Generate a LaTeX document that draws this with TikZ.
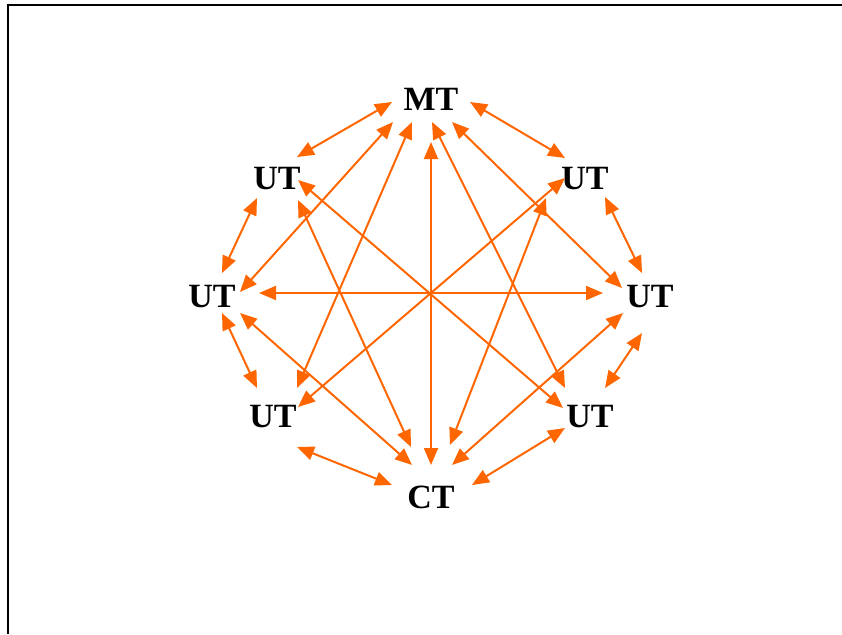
\documentclass[tikz,border=0pt]{standalone}
\usepackage{fontspec}
\setmainfont{Liberation Serif}
\usetikzlibrary{arrows.meta,calc}
\definecolor{arrorange}{HTML}{FF6600}
\begin{document}
\begin{tikzpicture}[x=1pt,y=-1pt,
  lbl/.style={font=\fontsize{34}{40}\selectfont\bfseries, inner sep=0pt},
  link/.style={draw=arrorange, line width=2pt,
    {Triangle[length=17pt,width=14pt]}-{Triangle[length=17pt,width=14pt]}}]
\useasboundingbox (0,0) rectangle (842,634);
\draw[line width=2pt] (8,634) -- (8,5) -- (842,5);
\node[lbl] (MT) at (431,99) {MT};
\node[lbl] (TL) at (277,179) {UT};
\node[lbl] (TR) at (585,179) {UT};
\node[lbl] (L)  at (212,297) {UT};
\node[lbl] (R)  at (650,297) {UT};
\node[lbl] (BL) at (273,417) {UT};
\node[lbl] (BR) at (590,417) {UT};
\node[lbl] (CT) at (431,497) {CT};
\newcommand\linkpair[4]{\draw[link] ($(#1)+(#2)$) -- ($(#3)+(#4)$);}
% MT links
\linkpair{MT}{-39,3}{TL}{20,-22}
\linkpair{MT}{39,3}{TR}{-20,-21}
\linkpair{MT}{-38,23}{L}{28,-5}
\linkpair{MT}{-19,23}{BL}{24,-29}
\linkpair{MT}{0,43}{CT}{0,-32}
\linkpair{MT}{1,23}{BR}{-25,-29}
\linkpair{MT}{21,23}{R}{-28,-9}
% TL links
\linkpair{TL}{-20,19}{L}{10,-24}
\linkpair{TL}{21,1}{BR}{-27,-9}
\linkpair{TL}{21,21}{CT}{-20,-50}
% TR links
\linkpair{TR}{20,18}{R}{-8,-24}
\linkpair{TR}{-20,-1}{BL}{25,-10}
\linkpair{TR}{-39,19}{CT}{19,-52}
% L links
\linkpair{L}{47,-4}{R}{-47,-4}
\linkpair{L}{10,16}{BL}{-16,-29}
\linkpair{L}{28,16}{CT}{-19,-32}
% R links
\linkpair{R}{-8,36}{BR}{15,-29}
\linkpair{R}{-27,16}{CT}{21,-32}
% bottom ring
\linkpair{BL}{24,30}{CT}{-39,-12}
\linkpair{BR}{-25,11}{CT}{41,-12}
\end{tikzpicture}
\end{document}
